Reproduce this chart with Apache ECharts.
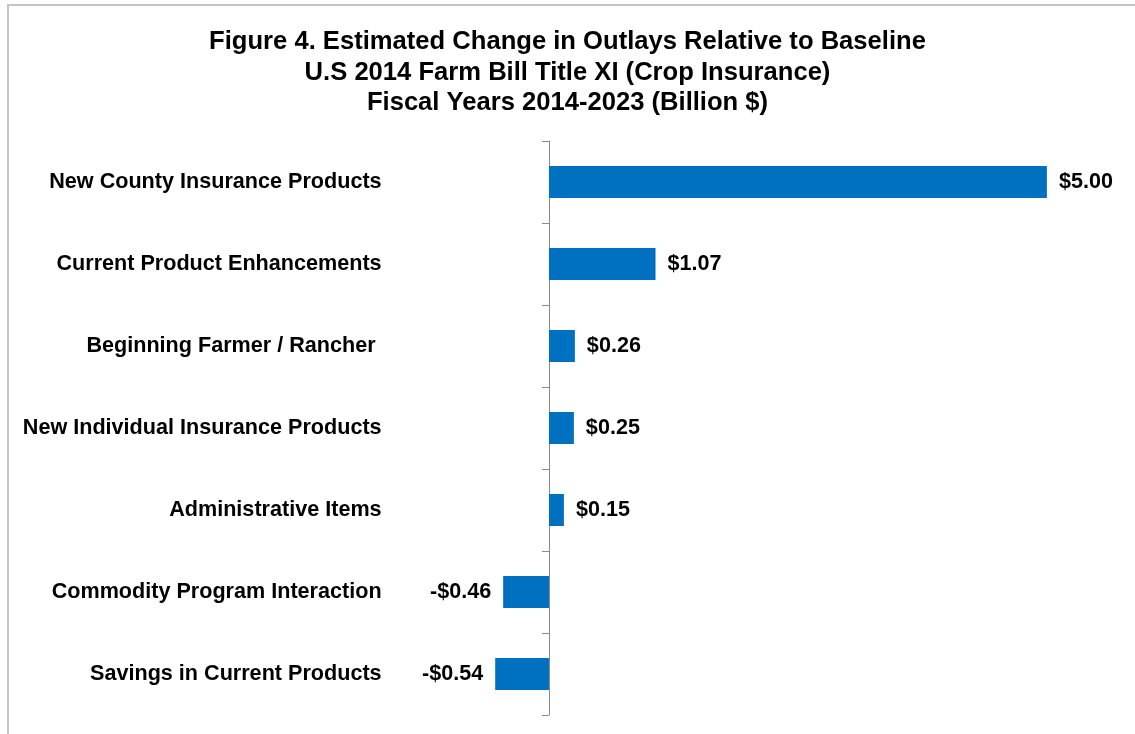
<!DOCTYPE html>
<html>
<head>
<meta charset="utf-8">
<script src="https://cdn.jsdelivr.net/npm/echarts@6/dist/echarts.min.js"></script>
<style>
html,body{margin:0;padding:0;background:#fff;}
#chart{width:1135px;height:734px;}
</style>
</head>
<body>
<div id="chart"></div>
<script>
const titleLines = [
  'Figure 4. Estimated Change in Outlays Relative to Baseline',
  'U.S 2014 Farm Bill Title XI (Crop Insurance)',
  'Fiscal Years 2014-2023 (Billion $)'
];
const categories = [
  'New County Insurance Products',
  'Current Product Enhancements',
  'Beginning Farmer / Rancher ',
  'New Individual Insurance Products',
  'Administrative Items',
  'Commodity Program Interaction',
  'Savings in Current Products'
];
const values = [5.00, 1.07, 0.26, 0.25, 0.15, -0.46, -0.54];

const fmt = v => (v < 0 ? '-$' : '$') + Math.abs(v).toFixed(2);
const FONT = '"Liberation Sans", Arial, sans-serif';

const chart = echarts.init(document.getElementById('chart'), null, {renderer: 'canvas'});
chart.setOption({
  backgroundColor: '#fff',
  animation: false,
  graphic: [{
    type: 'rect',
    shape: {x: 8, y: 5, width: 1200, height: 800},
    style: {fill: 'none', stroke: '#c4c4c4', lineWidth: 2},
    silent: true
  }],
  title: {
    text: titleLines.join('\n'),
    left: 'center',
    top: 22,
    textStyle: {fontFamily: FONT, fontWeight: 'bold', fontSize: 25.6, lineHeight: 30.5, color: '#000'}
  },
  grid: {left: 399.6, right: 18.4, top: 141, bottom: 19, outerBoundsMode: 'none', containLabel: false},
  xAxis: {
    type: 'value', min: -1.5, max: 5.7,
    axisLine: {show: false}, axisTick: {show: false}, axisLabel: {show: false}, splitLine: {show: false}
  },
  yAxis: {
    type: 'category', data: categories, inverse: true,
    axisLine: {show: true, onZero: true, lineStyle: {color: '#898989', width: 1}},
    axisTick: {show: true, inside: false, length: 7, lineStyle: {color: '#898989'}},
    axisLabel: {margin: 18, fontFamily: FONT, fontWeight: 'bold', fontSize: 21.6, color: '#000'}
  },
  series: [{
    type: 'bar',
    data: values.map(v => ({
      value: v,
      label: {position: v < 0 ? 'left' : 'right'}
    })),
    barWidth: 32,
    itemStyle: {color: '#0070C0'},
    label: {
      show: true, distance: 12,
      formatter: p => fmt(p.value),
      fontFamily: FONT, fontWeight: 'bold', fontSize: 21.6, color: '#000'
    }
  }]
});
</script>
</body>
</html>
